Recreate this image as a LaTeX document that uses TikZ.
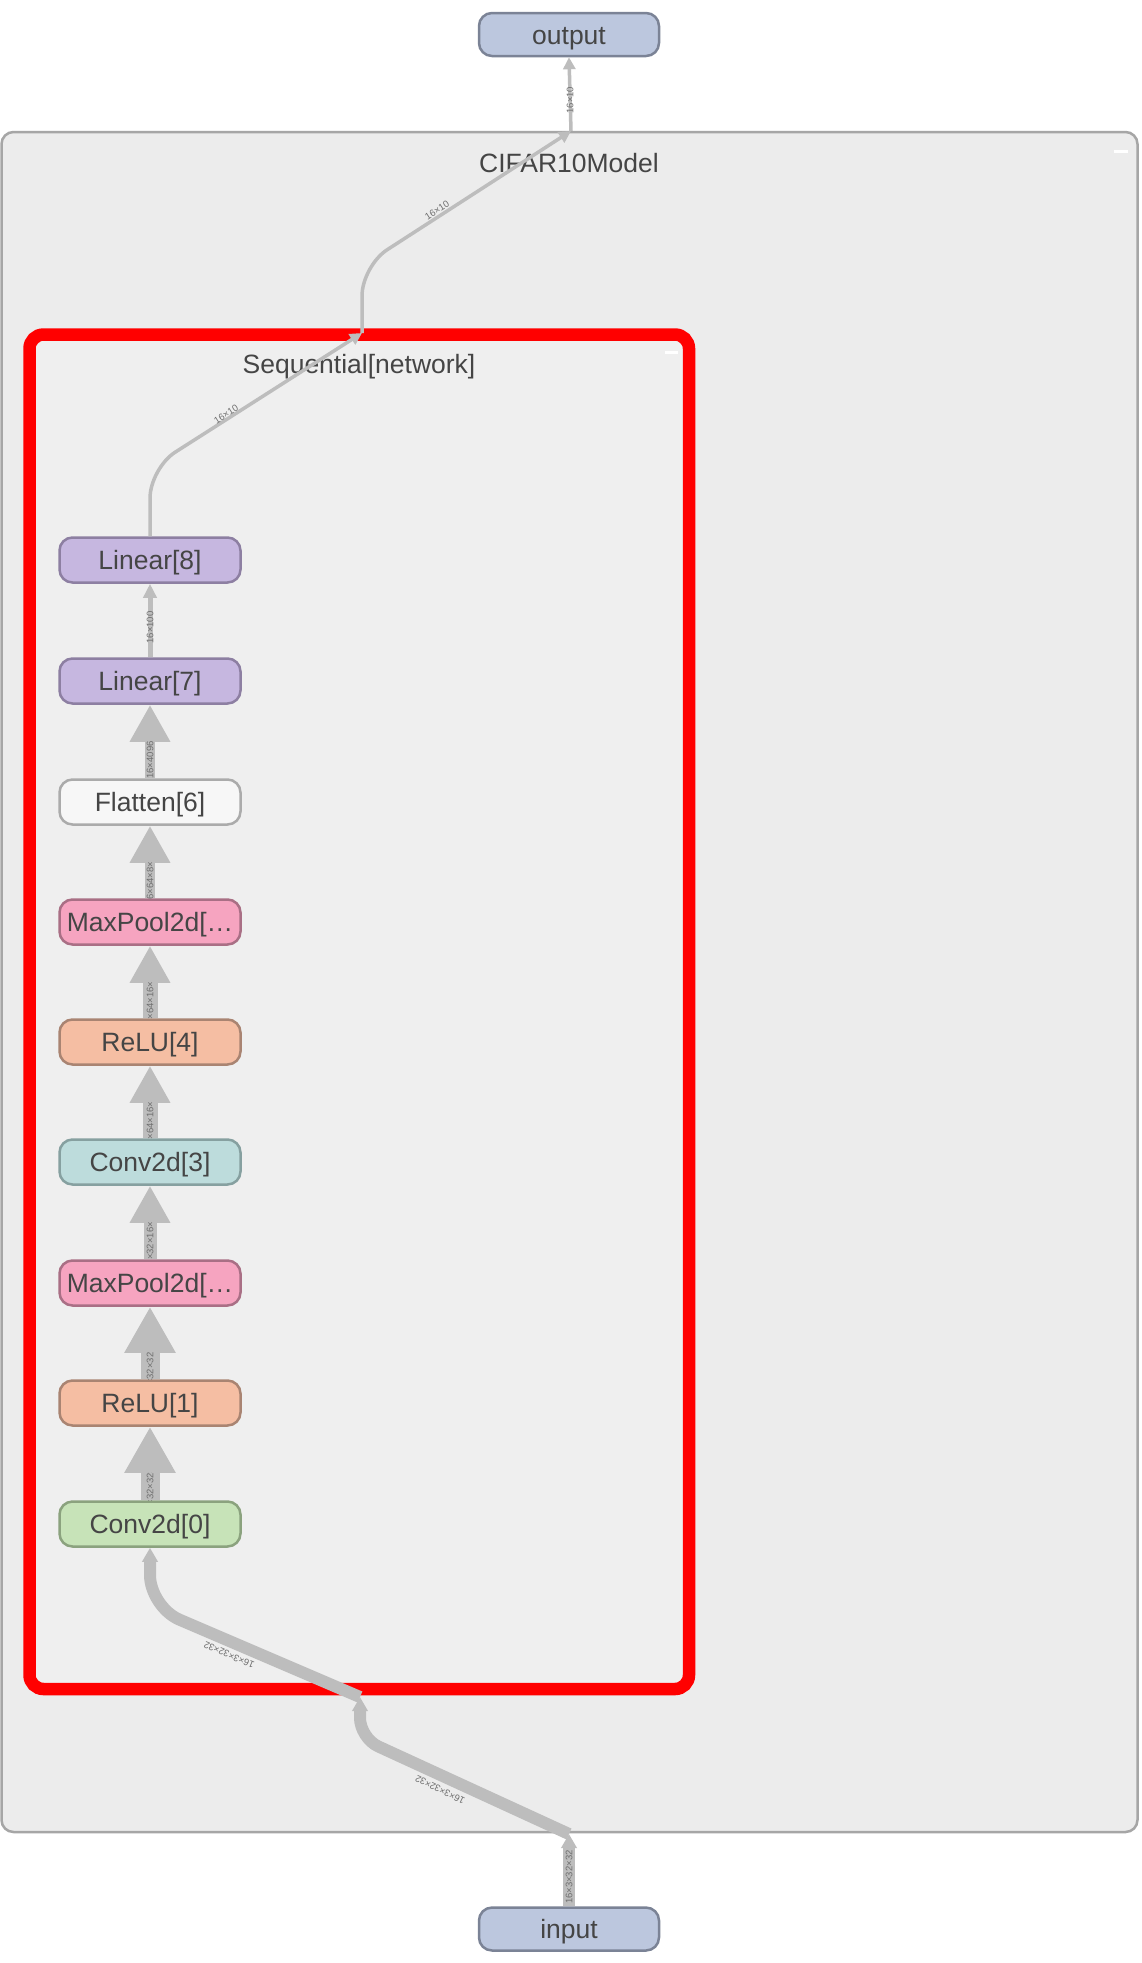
\documentclass[tikz,border=0pt]{standalone}
\usepackage{fontspec}
\setmainfont{Liberation Sans}
\usetikzlibrary{arrows.meta,calc}

\definecolor{edgegray}{HTML}{BDBDBD}
\definecolor{labgray}{HTML}{6E6E6E}
\definecolor{txtgray}{HTML}{454545}
\definecolor{outerfill}{HTML}{ECECEC}
\definecolor{outerline}{HTML}{A6A6A6}
\definecolor{seqfill}{HTML}{EFEFEF}
\definecolor{seqline}{HTML}{FF0000}
\definecolor{iofill}{HTML}{BCC7DE}
\definecolor{ioline}{HTML}{7B8396}
\definecolor{linfill}{HTML}{C6B7E0}
\definecolor{linline}{HTML}{8D7FA2}
\definecolor{flatfill}{HTML}{F7F7F7}
\definecolor{flatline}{HTML}{ABABAB}
\definecolor{poolfill}{HTML}{F6A4C0}
\definecolor{poolline}{HTML}{A96F85}
\definecolor{relufill}{HTML}{F5BEA3}
\definecolor{reluline}{HTML}{A98472}
\definecolor{convbfill}{HTML}{BDDCDC}
\definecolor{convbline}{HTML}{86A0A0}
\definecolor{convafill}{HTML}{C7E3B8}
\definecolor{convaline}{HTML}{8BA27E}

\tikzset{
  mod/.style={rectangle, rounded corners=13pt, line width=2.5pt,
    minimum width=181pt, minimum height=45pt, inner sep=0pt,
    text height=19pt, text depth=0pt, text=txtgray,
    font=\fontsize{26.5}{26.5}\selectfont},
  io/.style={mod, fill=iofill, draw=ioline, minimum width=180pt, minimum height=43pt},
  lin/.style={mod, fill=linfill, draw=linline},
  flat/.style={mod, fill=flatfill, draw=flatline},
  pool/.style={mod, fill=poolfill, draw=poolline},
  relu/.style={mod, fill=relufill, draw=reluline},
  convb/.style={mod, fill=convbfill, draw=convbline},
  conva/.style={mod, fill=convafill, draw=convaline},
  grouptitle/.style={anchor=base, text=txtgray, inner sep=0pt,
    font=\fontsize{26.5}{26.5}\selectfont},
  elab/.style={text=labgray, inner sep=0pt, text height=6.8pt, text depth=0pt,
    font=\fontsize{9.5}{9.5}\selectfont},
  flow/.style={draw=edgegray, line cap=butt, line join=round},
  eten/.style={flow, line width=3.5pt, -{Triangle[length=12pt,width=12pt]}},
  ehundred/.style={flow, line width=5pt, -{Triangle[length=14pt,width=13pt]}},
  einput/.style={flow, line width=12pt, -{Triangle[length=14pt,width=15pt]}},
  esmall/.style={flow, line width=10.5pt, -{Triangle[length=37pt,width=38pt]}},
  emid/.style={flow, line width=13pt, -{Triangle[length=37pt,width=38pt]}},
  elarge/.style={flow, line width=15pt, -{Triangle[length=37pt,width=38pt]}},
  ehuge/.style={flow, line width=19pt, -{Triangle[length=46pt,width=48pt]}},
}

% label centred on the visible part of a vertical shaft, cut to that part
\newcommand\shaftlabel[4]{%
  \begin{scope}
    \clip ($(#1)+(-20,0)$) rectangle ($(#2)+(20,#3)$);
    \node[elab, rotate=90] at ($(#1)!0.5!(#2)+(0,#3/2)$) {#4};
  \end{scope}}

\begin{document}
\begin{tikzpicture}[x=1pt, y=-1pt]
  \fill[white] (0,0) rectangle (1142,1963);
  \useasboundingbox (0,0) rectangle (1142,1963);

  % containers
  \draw[fill=outerfill, draw=outerline, line width=2.5pt, rounded corners=12pt]
    (1.5,132) rectangle (1137.5,1832);
  \fill[white] (1114,149.5) rectangle (1128,152.5);
  \node[grouptitle] (cifar) at (569,172) {CIFAR10Model};

  \draw[fill=seqfill, draw=seqline, line width=12.5pt, rounded corners=14pt]
    (29.5,334.5) rectangle (689,1689);
  \fill[white] (665,351) rectangle (678,354);
  \node[grouptitle] (seq) at (359,373) {Sequential[network]};

  % modules
  \node[io] (output) at (569,34.5) {output};
  \node[io] (input) at (569,1929) {input};
  \node[lin]   (lin8)  at (150,560)  {Linear[8]};
  \node[lin]   (lin7)  at (150,681)  {Linear[7]};
  \node[flat]  (flat6) at (150,802)  {Flatten[6]};
  \node[pool]  (pool5) at (150,922)  {MaxPool2d[…};
  \node[relu]  (relu4) at (150,1042) {ReLU[4]};
  \node[convb] (conv3) at (150,1162) {Conv2d[3]};
  \node[pool]  (pool2) at (150,1283) {MaxPool2d[…};
  \node[relu]  (relu1) at (150,1403) {ReLU[1]};
  \node[conva] (conv0) at (150,1524) {Conv2d[0]};

  % ports on the container borders
  \coordinate (pOutTop) at (571,131);
  \coordinate (pSeqTop) at (362,333);
  \coordinate (pSeqBot) at (360,1697);
  \coordinate (pOutBot) at (569,1834);

  % flow through the sequential stack
  \draw[ehuge]    (conv0.north) -- (relu1.south);
  \shaftlabel{conv0.north}{relu1.south}{46}{16×32×32×32}
  \draw[ehuge]    (relu1.north) -- (pool2.south);
  \shaftlabel{relu1.north}{pool2.south}{46}{16×32×32×32}
  \draw[emid]     (pool2.north) -- (conv3.south);
  \shaftlabel{pool2.north}{conv3.south}{37}{16×32×16×16}
  \draw[elarge]   (conv3.north) -- (relu4.south);
  \shaftlabel{conv3.north}{relu4.south}{37}{16×64×16×16}
  \draw[elarge]   (relu4.north) -- (pool5.south);
  \shaftlabel{relu4.north}{pool5.south}{37}{16×64×16×16}
  \draw[esmall]   (pool5.north) -- (flat6.south);
  \shaftlabel{pool5.north}{flat6.south}{37}{16×64×8×8}
  \draw[esmall]   (flat6.north) -- (lin7.south);
  \shaftlabel{flat6.north}{lin7.south}{37}{16×4096}
  \draw[ehundred] (lin7.north) -- (lin8.south);
  \shaftlabel{lin7.north}{lin8.south}{14}{16×100}

  % model input into the stack
  \draw[einput] (input.north) -- (pOutBot);
  \shaftlabel{input.north}{pOutBot}{14}{16×3×32×32}
  \draw[einput, rounded corners=20pt]
    (pOutBot) -- ($(pSeqBot)+(0,41)$) -- (pSeqBot);
  \node[elab, rotate=154] (lbin2) at (440,1790) {16×3×32×32};
  \draw[einput, rounded corners=32pt]
    (pSeqBot) -- ($(pSeqBot)+(-210,-90)$) -- (conv0.south);
  \node[elab, rotate=157] (lbin3) at (229,1655) {16×3×32×32};

  % stack output to model output
  \draw[eten, rounded corners=30pt]
    (lin8.north) -- ($(lin8.north)+(0,-68)$) -- (pSeqTop);
  \node[elab, rotate=32.5] (lbout1) at (226,414) {16×10};
  \draw[eten, rounded corners=30pt]
    (pSeqTop) -- ($(pSeqTop)+(0,-67)$) -- (pOutTop);
  \node[elab, rotate=33] (lbout2) at (437,210) {16×10};
  \draw[eten] (pOutTop) -- (output.south);
  \shaftlabel{pOutTop}{output.south}{12}{16×10}
\end{tikzpicture}
\end{document}
